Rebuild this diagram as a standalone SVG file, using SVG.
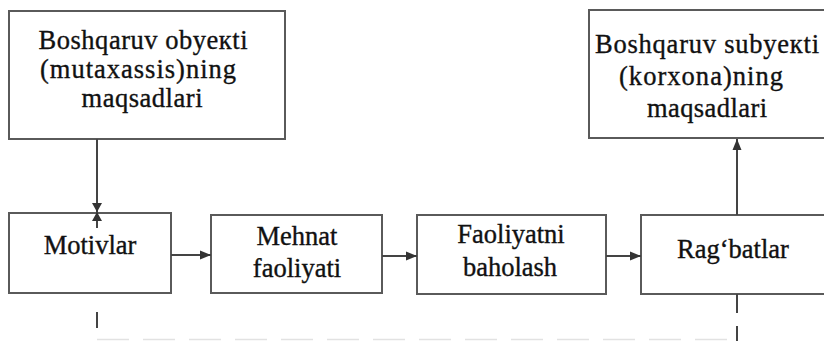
<svg xmlns="http://www.w3.org/2000/svg" width="824" height="341" viewBox="0 0 824 341">
  <defs>
    <marker id="arrow" markerWidth="12" markerHeight="10" refX="11" refY="5" orient="auto" markerUnits="userSpaceOnUse">
      <path d="M0,0.5 L11,5 L0,9.5 Z" fill="#333"/>
    </marker>
  </defs>
  <style>
    .box { fill: #fff; stroke: #5a5a5a; stroke-width: 2; }
    .lbl { font-family: 'Liberation Serif', Tinos, 'Times New Roman', Times, 'DejaVu Serif', serif; font-size: 26.5px; fill: #111; stroke: #111; stroke-width: 0.35; text-anchor: middle; }
    .wire { fill: none; stroke: #444; stroke-width: 2; }
    .dash { fill: none; stroke: #444; stroke-width: 2; }
    .faint { fill: none; stroke: #e2e2e2; stroke-width: 1.5; stroke-dasharray: 32 14; }
  </style>
  <rect width="824" height="341" fill="#fff"/>

  <g id="obyekt-goals">
    <rect class="box" x="9" y="11" width="276" height="128"/>
    <text class="lbl" x="143" y="49" textLength="209" lengthAdjust="spacing">Boshqaruv  obyeкti</text>
    <text class="lbl" x="138" y="78" textLength="196" lengthAdjust="spacing">(mutaxassis)ning</text>
    <text class="lbl" x="142" y="107" textLength="121" lengthAdjust="spacing">maqsadlari</text>
  </g>

  <g id="subyekt-goals">
    <rect class="box" x="589" y="10" width="240" height="128"/>
    <text class="lbl" x="707" y="53" textLength="224" lengthAdjust="spacing">Boshqaruv  subyeкti</text>
    <text class="lbl" x="701" y="85" textLength="164" lengthAdjust="spacing">(korxona)ning</text>
    <text class="lbl" x="707" y="117" textLength="120" lengthAdjust="spacing">maqsadlari</text>
  </g>

  <g id="motivlar">
    <rect class="box" x="9" y="213" width="162" height="80"/>
    <text class="lbl" x="90" y="254">Motivlar</text>
  </g>

  <g id="mehnat">
    <rect class="box" x="211" y="215" width="171" height="78"/>
    <text class="lbl" x="297" y="245">Mehnat</text>
    <text class="lbl" x="297" y="277">faoliyati</text>
  </g>

  <g id="baholash">
    <rect class="box" x="417" y="215" width="189" height="79"/>
    <text class="lbl" x="511" y="243">Faoliyatni</text>
    <text class="lbl" x="510" y="276">baholash</text>
  </g>

  <g id="ragbatlar">
    <rect class="box" x="641" y="215" width="190" height="79"/>
    <text class="lbl" x="733" y="258">Rag‘batlar</text>
  </g>

  <g id="connectors">
    <!-- goals of the object feed the motives (line runs slightly into the box) -->
    <line class="wire" x1="97" y1="139" x2="97" y2="228"/>
    <path d="M92,203 L102,203 L97,212 Z M92,221 L102,221 L97,212 Z" fill="#333"/>
    <!-- main chain -->
    <line class="wire" x1="171" y1="255" x2="211" y2="255" marker-end="url(#arrow)"/>
    <line class="wire" x1="382" y1="256" x2="417" y2="256" marker-end="url(#arrow)"/>
    <line class="wire" x1="606" y1="256" x2="641" y2="256" marker-end="url(#arrow)"/>
    <!-- incentives up to the goals of the subject -->
    <line class="wire" x1="737" y1="215" x2="737" y2="139" marker-end="url(#arrow)"/>
    <!-- feedback loop below -->
    <line class="dash" x1="97" y1="312" x2="97" y2="328"/>
    <line class="dash" x1="737" y1="294" x2="737" y2="313"/>
    <line class="dash" x1="737" y1="326" x2="737" y2="341"/>
    <line class="faint" x1="97" y1="339.5" x2="732" y2="339.5"/>
  </g>
</svg>
